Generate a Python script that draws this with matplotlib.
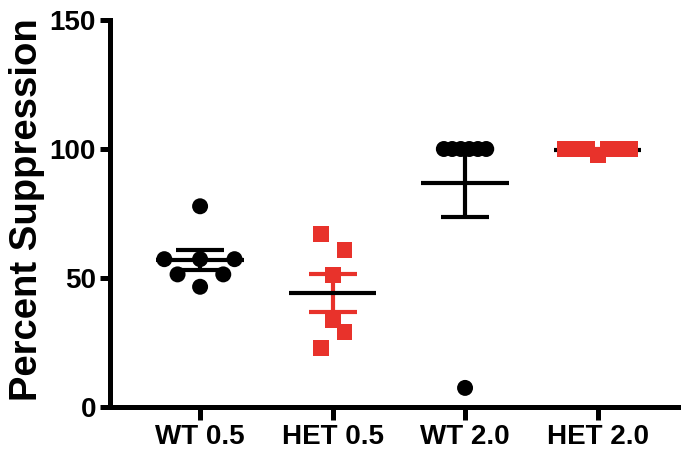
import numpy as np
import matplotlib
matplotlib.use("Agg")
import matplotlib.pyplot as plt

# ---- data ----
categories = ["WT 0.5", "HET 0.5", "WT 2.0", "HET 2.0"]
wt_05 = [77.8, 57.3, 57.3, 57.3, 51.4, 51.4, 46.6]
het_05 = [67.0, 60.9, 51.0, 33.9, 29.1, 22.9]
wt_20 = [100.0, 100.0, 100.0, 100.0, 100.0, 100.0, 7.4]
het_20 = [100.0, 100.0, 100.0, 97.6, 100.0, 100.0, 100.0]
y_ticks = [0, 50, 100, 150]
y_label = "Percent Suppression"

# horizontal scatter spread (beeswarm-like offsets, category units)
wt_05_spread = [0.0, -0.27, 0.0, 0.26, -0.17, 0.175, 0.0]
het_05_spread = [-0.09, 0.09, 0.0, 0.0, 0.09, -0.09]
wt_20_spread = [-0.16, -0.097, -0.032, 0.032, 0.097, 0.16, 0.0]
het_20_spread = [-0.245, -0.163, -0.082, 0.0, 0.082, 0.163, 0.245]

BLACK = "#000000"
RED = "#E8322B"

groups = [
    (wt_05, wt_05_spread, "o", BLACK),
    (het_05, het_05_spread, "s", RED),
    (wt_20, wt_20_spread, "o", BLACK),
    (het_20, het_20_spread, "s", RED),
]

plt.rcParams["font.family"] = ["Liberation Sans", "DejaVu Sans"]
plt.rcParams["font.weight"] = "bold"

fig = plt.figure(figsize=(6.81, 4.57), dpi=100)
W, H = 681, 457
ax = fig.add_axes([110 / W, 1 - 407 / H, (W - 110) / W, (407 - 20) / H])

mean_half = 0.33
for i, (vals, spread, mk, col) in enumerate(groups):
    v = np.asarray(vals, dtype=float)
    m = v.mean()
    sem = v.std(ddof=1) / np.sqrt(len(v))
    ax.errorbar([i], [m], yerr=[sem], fmt="none", ecolor=col,
                elinewidth=3, capsize=17, capthick=3, zorder=2)
    ax.plot([i - mean_half, i + mean_half], [m, m], color=BLACK, lw=3,
            solid_capstyle="butt", zorder=3)
    ax.scatter(np.array(spread) + i, v, marker=mk, s=(11.5 if mk == "o" else 11.5) ** 2,
               color=col, edgecolors="none", zorder=4, clip_on=False)

ax.set_xlim(-0.68, 3.63)
ax.set_ylim(0, 150)
ax.set_xticks(range(len(categories)))
ax.set_xticklabels(categories, fontsize=20, fontweight="bold")
ax.set_yticks(y_ticks)
ax.set_yticklabels([str(t) for t in y_ticks], fontsize=20, fontweight="bold")

for side in ("top", "right"):
    ax.spines[side].set_visible(False)
for side in ("left", "bottom"):
    ax.spines[side].set_linewidth(3.6)
    ax.spines[side].set_capstyle("projecting")

ax.tick_params(axis="x", length=9, width=3.6, pad=3, direction="out")
ax.tick_params(axis="y", length=7, width=3.6, pad=3, direction="out")

ax.set_ylabel(y_label, fontsize=27.5, fontweight="bold")
ax.yaxis.set_label_coords(-0.114, 0.51)

fig.savefig("out.png", dpi=100)
